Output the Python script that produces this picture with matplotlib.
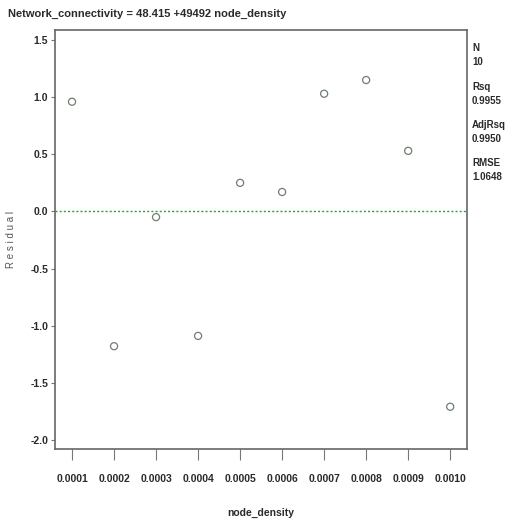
import matplotlib
matplotlib.use("Agg")
import matplotlib.pyplot as plt
import numpy as np

plt.rcParams['font.family'] = ['Liberation Sans', 'DejaVu Sans']

node_density = [0.0001, 0.0002, 0.0003, 0.0004, 0.0005, 0.0006, 0.0007, 0.0008, 0.0009, 0.0010]
residual = [0.96, -1.18, -0.05, -1.09, 0.25, 0.17, 1.03, 1.15, 0.53, -1.71]
xtick_labels = ["0.0001", "0.0002", "0.0003", "0.0004", "0.0005", "0.0006", "0.0007", "0.0008", "0.0009", "0.0010"]
yticks = [1.5, 1.0, 0.5, 0.0, -0.5, -1.0, -1.5, -2.0]
stats_labels = ["N", "Rsq", "AdjRsq", "RMSE"]
stats_values = ["10", "0.9955", "0.9950", "1.0648"]
title = "Network_connectivity = 48.415 +49492 node_density"

W, H = 506, 520
fig = plt.figure(figsize=(W/100, H/100), dpi=100)
ax = fig.add_axes([55/W, 1-449/H, (467-55)/W, (449-30)/H])

tc = '#2a2a2a'
ax.axhline(0, color='#3a9a3a', lw=1, ls=(0, (1.5, 1.5)))
ax.scatter(node_density, residual, s=26, facecolors='none', edgecolors='#6f7f6f', linewidths=0.9, zorder=3)

ax.set_xlim(0.0000595, 0.00104)
ax.set_ylim(-2.08, 1.588)
ax.set_xticks(node_density)
ax.set_xticklabels(xtick_labels, fontsize=7.5, color=tc, fontweight='bold')
ax.set_yticks(yticks)
ax.set_yticklabels([f"{v:.1f}" for v in yticks], fontsize=7.5, color=tc, fontweight='bold')
ax.tick_params(axis='x', direction='out', length=8, pad=10, color='#777777')
ax.tick_params(axis='y', direction='out', length=3, pad=2, color='#777777')
for s in ax.spines.values():
    s.set_color('#666666')
    s.set_linewidth(1.2)

ax.set_xlabel("node_density", fontsize=7.5, color=tc, labelpad=17, fontweight='bold')
ax.set_ylabel("R e s i d u a l", fontsize=7, color='#555555', labelpad=10)

fig.text(8/W, 1-14/H, title, fontsize=8, color=tc, va='center', ha='left', fontweight='bold')

ys = [48, 87, 125, 163]
for lab, val, y in zip(stats_labels, stats_values, ys):
    fig.text(472/W, 1-y/H, lab, fontsize=7, color=tc, va='center', ha='left', fontweight='bold')
    fig.text(472/W, 1-(y+14)/H, val, fontsize=7, color=tc, va='center', ha='left', fontweight='bold')

fig.savefig("out.png", dpi=100)
